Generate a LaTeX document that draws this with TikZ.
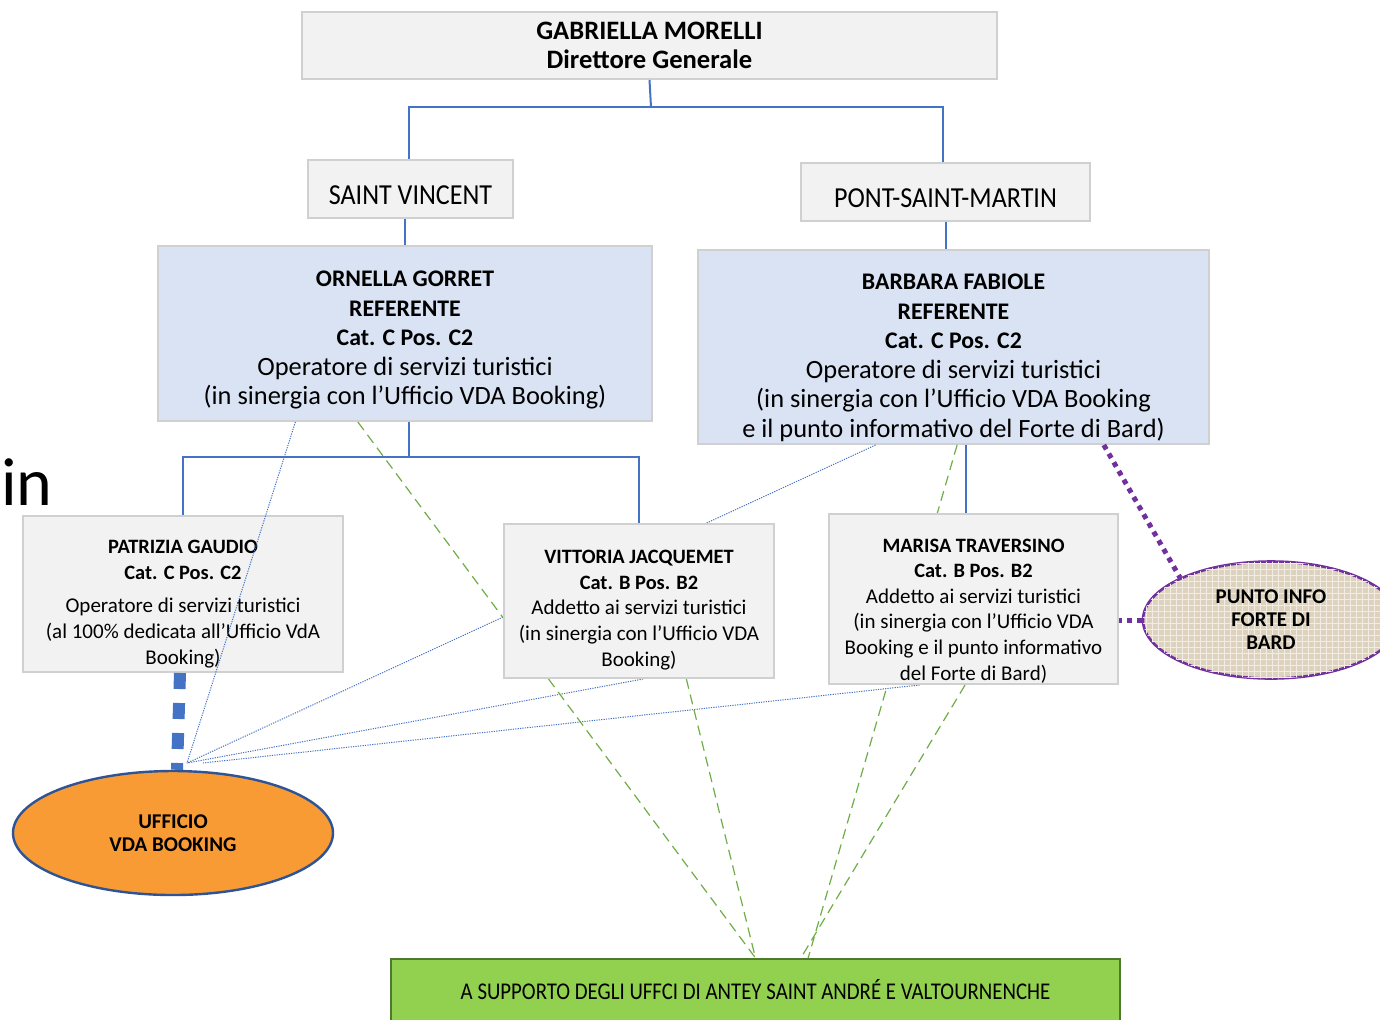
\documentclass[tikz,border=0pt]{standalone}
\usepackage{fontspec}
\setmainfont{Carlito}
\usetikzlibrary{calc,shapes.geometric,patterns}
\definecolor{boxfill}{HTML}{F2F2F2}
\definecolor{boxline}{HTML}{D0D0D0}
\definecolor{reffill}{HTML}{DAE3F3}
\definecolor{connblue}{HTML}{4472C4}
\definecolor{ufffill}{HTML}{F99B34}
\definecolor{uffline}{HTML}{2F5496}
\definecolor{infopurple}{HTML}{7030A0}
\definecolor{infofill}{HTML}{DCD2BE}
\definecolor{supfill}{HTML}{92D050}
\definecolor{supline}{HTML}{4E7A2E}
\definecolor{linkgreen}{HTML}{70AD47}
\newcommand{\lift}[1]{\rule{0pt}{#1}}
\newcommand{\bignm}[1]{{\fontsize{11.9}{14.75}\selectfont\bfseries #1}}
\newcommand{\smallnm}[1]{{\fontsize{10.2}{12.8}\selectfont\bfseries #1}}
\pgfdeclarelayer{low}
\pgfdeclarelayer{links}
\pgfsetlayers{low,links,main}
\tikzset{
  box/.style={draw=boxline, line width=1pt, fill=boxfill, align=center, inner sep=0pt},
  refbox/.style={box, fill=reffill},
  conn/.style={connblue, line width=1pt},
  bluelink/.style={connblue, line width=0.5pt, dash pattern=on 0.6pt off 0.6pt},
  greenlink/.style={linkgreen, line width=0.6pt, dash pattern=on 5pt off 3pt},
  purplelink/.style={infopurple, line width=2.5pt, dash pattern=on 2.5pt off 2.5pt},
  bigfont/.style={font=\fontsize{13.2}{14.75}\selectfont},
  smallfont/.style={font=\fontsize{10.5}{12.8}\selectfont},
  sitefont/.style={font=\fontsize{14.5}{16}\selectfont}
}
\begin{document}
\begin{tikzpicture}[x=0.5pt,y=-0.5pt]
  \useasboundingbox (0,0) rectangle (1380,1019);
  \clip (0,0) rectangle (1380,1019);
  \begin{pgfonlayer}{low}
  \fill[white] (0,0) rectangle (1380,1019);
  \node[anchor=base west, font=\fontsize{34}{40}\selectfont] (stray) at (-6,505) {in};
  \node[box, minimum width=347.5pt, minimum height=33.5pt, font=\fontsize{13.3}{14.5}\selectfont\bfseries] (dg) at (649.5,45.5) {GABRIELLA MORELLI\\Direttore Generale};
  \node[box, minimum width=102.5pt, minimum height=29pt, sitefont] (sv) at (410.5,189) {\lift{15.3pt}\scalebox{0.9}[1]{SAINT VINCENT}};
  \node[box, minimum width=144.5pt, minimum height=29pt, sitefont] (psm) at (945.5,192) {\lift{15.3pt}\scalebox{0.9}[1]{PONT-SAINT-MARTIN}};
  \node[refbox, minimum width=247pt, minimum height=87.5pt, bigfont] (og) at (405,333.5)
    {\lift{14.7pt}\bignm{ORNELLA GORRET}\\\bignm{REFERENTE}\\\bignm{Cat. C Pos. C2}\\Operatore di servizi turistici\\(in sinergia con l’Ufficio VDA Booking)};
  \node[refbox, minimum width=255.5pt, minimum height=97pt, bigfont] (bf) at (953.5,347)
    {\lift{18.7pt}\bignm{BARBARA FABIOLE}\\\bignm{REFERENTE}\\\bignm{Cat. C Pos. C2}\\Operatore di servizi turistici\\(in sinergia con l’Ufficio VDA Booking\\e il punto informativo del Forte di Bard)};
  \node[box, minimum width=160pt, minimum height=78pt, smallfont] (pg) at (183,594)
    {\lift{16.6pt}\smallnm{PATRIZIA GAUDIO}\\\smallnm{Cat. C Pos. C2}\\[4pt]Operatore di servizi turistici\\(al 100\% dedicata all'Ufficio VdA\\Booking)};
  \node[ellipse, draw=uffline, line width=1.2pt, fill=ufffill, minimum width=160pt, minimum height=62pt, inner sep=0pt, align=center, font=\fontsize{10.5}{11.5}\selectfont\bfseries] (uff) at (173,833) {UFFICIO\\VDA BOOKING};
  \node[ellipse, draw=infopurple, line width=1.3pt, fill=infofill, postaction={pattern=grid, pattern color=white!60!infofill}, minimum width=128pt, minimum height=58.5pt, inner sep=0pt, align=center, font=\fontsize{10.5}{11.5}\selectfont\bfseries] (pif) at (1271,620) {PUNTO INFO\\FORTE DI\\BARD};
  \node[box, draw=supline, fill=supfill, minimum width=364.5pt, minimum height=31pt, font=\fontsize{12}{14}\selectfont] (sup) at (755.5,990) {\scalebox{0.868}[1]{A SUPPORTO DEGLI UFFCI DI ANTEY SAINT ANDRÉ E VALTOURNENCHE}};
  \end{pgfonlayer}
  \node[box, minimum width=135pt, minimum height=77pt, smallfont] (vj) at (639,601)
    {\lift{15.6pt}\smallnm{VITTORIA JACQUEMET}\\\smallnm{Cat. B Pos. B2}\\Addetto ai servizi turistici\\(in sinergia con l’Ufficio VDA\\Booking)};
  \node[box, minimum width=144.5pt, minimum height=85pt, smallfont] (mt) at (973.5,599)
    {\lift{18.6pt}\smallnm{MARISA TRAVERSINO}\\\smallnm{Cat. B Pos. B2}\\Addetto ai servizi turistici\\(in sinergia con l’Ufficio VDA\\Booking e il punto informativo\\del Forte di Bard)};
  \coordinate (j1) at (651,107);
  \coordinate (j2) at (409,457);
  \coordinate (hub) at (187,763);
  \begin{pgfonlayer}{links}
  \draw[conn] (dg.south) -- (j1);
  \draw[conn] ([xshift=-1pt]sv.north) |- (j1) -| ([xshift=-1.25pt]psm.north);
  \draw[conn] ([xshift=-3pt]sv.south) -- ([xshift=-3pt]sv.south |- og.north);
  \draw[conn] (psm.south) -- (psm.south |- bf.north);
  \draw[conn] (og.south -| j2) -- (j2);
  \draw[conn] (pg.north) |- (j2) -| (vj.north);
  \draw[conn] ([xshift=-3.75pt]mt.north) -- ([xshift=-3.75pt]mt.north |- bf.south);
  \draw[connblue, line width=6pt, dash pattern=on 8pt off 7pt] ([xshift=-1.5pt]pg.south) -- ([xshift=2pt]uff.north);
  \draw[bluelink] ($(og.south west)!0.279!(og.south east)$) -- (hub);
  \draw[bluelink] ($(bf.south west)!0.348!(bf.south east)$) -- (hub);
  \draw[bluelink] ($(vj.south west)!0.515!(vj.south east)$) -- (hub);
  \draw[bluelink] ($(mt.south west)!0.315!(mt.south east)$) -- ([xshift=8pt]hub);
  \draw[greenlink] ($(og.south west)!0.405!(og.south east)$) -- (sup.north);
  \draw[greenlink] ($(vj.south west)!0.674!(vj.south east)$) -- (sup.north);
  \draw[greenlink] ($(bf.south west)!0.507!(bf.south east)$) -- ($(sup.north west)!0.572!(sup.north east)$);
  \draw[greenlink] ($(mt.south west)!0.471!(mt.south east)$) -- ($(sup.north west)!0.562!(sup.north east)$);
  \draw[purplelink] ($(bf.south west)!0.793!(bf.south east)$) -- (pif.155);
  \draw[purplelink] (pif.west) -- (pif.west -| mt.east);
  \end{pgfonlayer}
\end{tikzpicture}
\end{document}
